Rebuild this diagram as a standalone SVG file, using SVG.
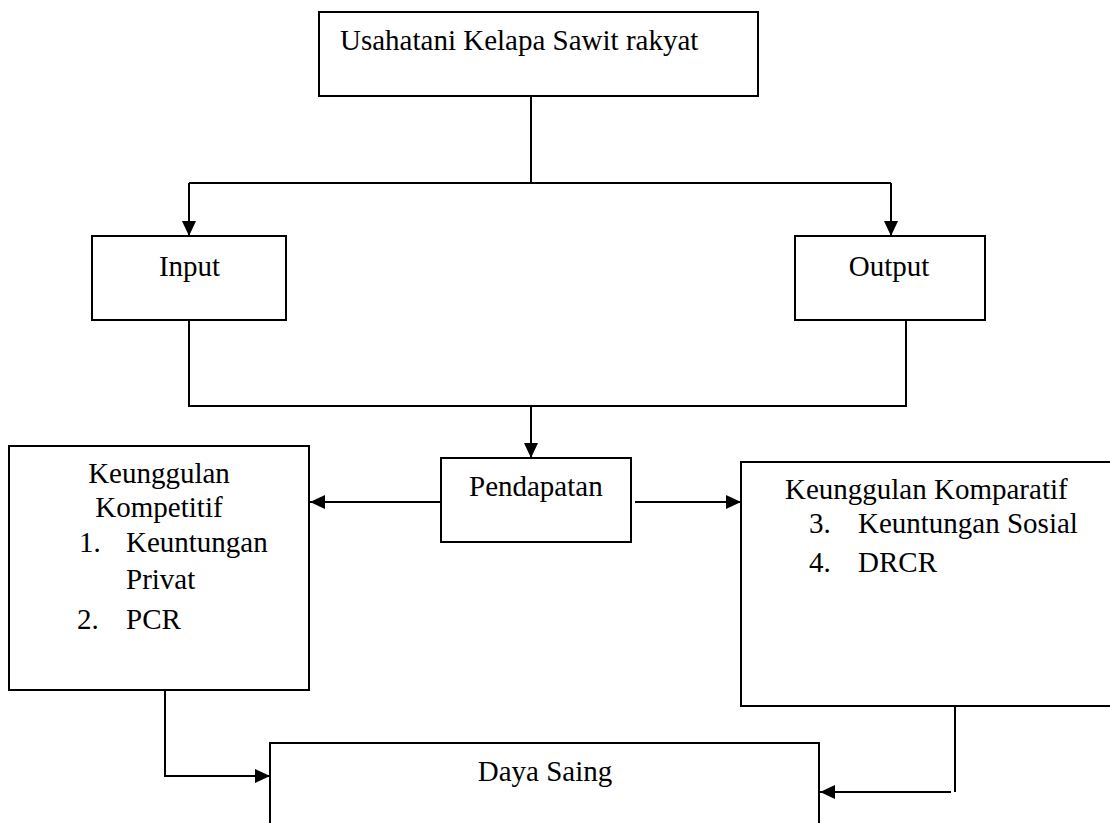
<svg xmlns="http://www.w3.org/2000/svg" width="1110" height="823" viewBox="0 0 1110 823">
<style>
.box{fill:#fff;stroke:#000;stroke-width:2}
.t{font-family:"Liberation Serif","Times New Roman",serif;font-size:29px;fill:#000}
.c{text-anchor:middle}
.ln{fill:none;stroke:#000;stroke-width:2}
</style>
<defs>
<marker id="ah" markerUnits="userSpaceOnUse" markerWidth="15" markerHeight="14" refX="15" refY="7" orient="auto">
<path d="M0,0 L15,7 L0,14 z" fill="#000"/>
</marker>
</defs>
<rect width="1110" height="823" fill="#fff"/>
<g id="connectors">
<polyline class="ln" points="531,96 531,183"/>
<polyline class="ln" points="189,183 891,183"/>
<line class="ln" x1="189" y1="183" x2="189" y2="236" marker-end="url(#ah)"/>
<line class="ln" x1="891" y1="183" x2="891" y2="236" marker-end="url(#ah)"/>
<polyline class="ln" points="189,320 189,406 906,406 906,320"/>
<line class="ln" x1="531" y1="406" x2="531" y2="458" marker-end="url(#ah)"/>
<line class="ln" x1="441" y1="502" x2="310" y2="502" marker-end="url(#ah)"/>
<line class="ln" x1="635" y1="502" x2="741" y2="502" marker-end="url(#ah)"/>
<polyline class="ln" points="165,690 165,776 270,776" marker-end="url(#ah)"/>
<polyline class="ln" points="955,706 955,792"/>
<line class="ln" x1="951" y1="792" x2="820" y2="792" marker-end="url(#ah)"/>
</g>
<g id="node-usahatani">
<rect class="box" x="319" y="12" width="439" height="84"/>
<text class="t" x="340" y="50">Usahatani Kelapa Sawit rakyat</text>
</g>
<g id="node-input">
<rect class="box" x="92" y="236" width="194" height="84"/>
<text class="t c" x="189.5" y="276">Input</text>
</g>
<g id="node-output">
<rect class="box" x="795" y="236" width="190" height="84"/>
<text class="t c" x="889" y="276">Output</text>
</g>
<g id="node-pendapatan">
<rect class="box" x="441" y="458" width="190" height="84"/>
<text class="t" x="469" y="496">Pendapatan</text>
</g>
<g id="node-kompetitif">
<rect class="box" x="9" y="446" width="300" height="244"/>
<text class="t c" x="159" y="483">Keunggulan</text>
<text class="t c" x="159" y="517">Kompetitif</text>
<text class="t" x="79" y="552">1.</text>
<text class="t" x="126" y="552">Keuntungan</text>
<text class="t" x="126" y="589">Privat</text>
<text class="t" x="77" y="629">2.</text>
<text class="t" x="126" y="629">PCR</text>
</g>
<g id="node-komparatif">
<rect class="box" x="741" y="462" width="372" height="244"/>
<text class="t" x="785" y="499">Keunggulan Komparatif</text>
<text class="t" x="809" y="533">3.</text>
<text class="t" x="858" y="533">Keuntungan Sosial</text>
<text class="t" x="809" y="572">4.</text>
<text class="t" x="858" y="572">DRCR</text>
</g>
<g id="node-dayasaing">
<rect class="box" x="270" y="743" width="549" height="100"/>
<text class="t c" x="545" y="781">Daya Saing</text>
</g>
</svg>
